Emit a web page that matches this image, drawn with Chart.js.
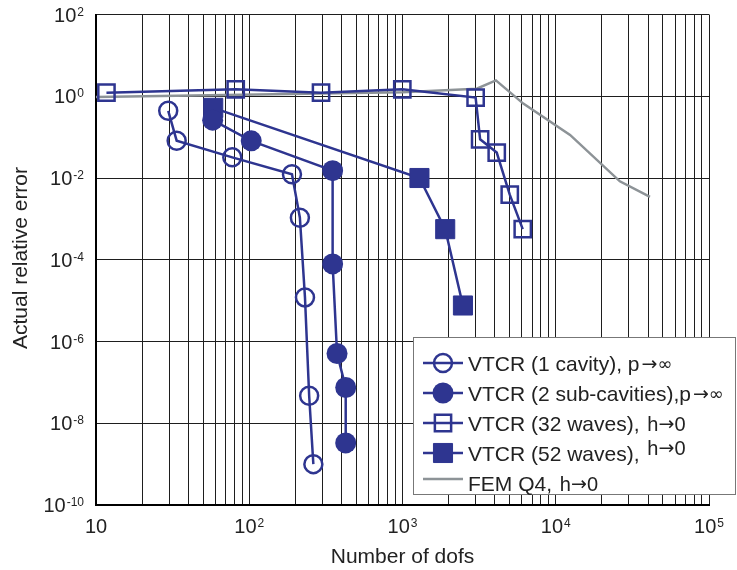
<!DOCTYPE html>
<html>
<head>
<meta charset="utf-8">
<script src="https://cdn.jsdelivr.net/npm/chart.js@4.4.1/dist/chart.umd.min.js"></script>
<style>
  html, body { margin: 0; padding: 0; background: #fff; }
  #wrap { position: relative; width: 737px; height: 570px; }
</style>
</head>
<body>
<div id="wrap"><canvas id="chart" width="737" height="570"></canvas></div>
<script>
'use strict'

// dofs / actual relative error
const cavity1Dofs = [29.6, 33.6, 77.5, 190, 214, 231, 246, 262]
const cavity1Err = [0.44, 0.082, 0.032, 0.0123, 1.07e-3, 1.2e-5, 4.7e-8, 1.0e-9]
const cavity2Dofs = [57.7, 103, 350, 350, 374, 426, 426]
const cavity2Err = [0.26, 0.081, 0.0151, 7.9e-5, 5.1e-7, 7.5e-8, 3.3e-9]
const waves32Dofs = [11.7, 81.6, 294, 997, 3000, 3210, 4120, 5010, 6090]
const waves32Err = [1.22, 1.48, 1.22, 1.48, 0.93, 0.0885, 0.042, 3.9e-3, 5.6e-4]
const waves52Dofs = [58.2, 1290, 1900, 2480]
const waves52Err = [0.52, 0.01, 5.6e-4, 7.6e-6]
const femDofs = [10, 1000, 3050, 4070, 6140, 12400, 26200, 41200]
const femErr = [0.96, 1.25, 1.53, 2.45, 0.66, 0.113, 8.3e-3, 3.45e-3]

const seriesNames = ['VTCR (1 cavity), p', 'VTCR (2 sub-cavities),p', 'VTCR (32 waves), ', 'VTCR (52 waves), ', 'FEM Q4, ']
const seriesLimits = ['→∞', '→∞', 'h→0', 'h→0', 'h→0']

// labelled decades on each axis
const xDecades = [10, 100, 1000, 10000, 100000]
const yDecades = [1e-10, 1e-8, 1e-6, 1e-4, 1e-2, 1, 100]

const xTitle = 'Number of dofs'
const yTitle = 'Actual relative error'

const BLUE = '#2e3590'
const GREY = '#8d9397'
const FONT = '"Liberation Sans", Arial, sans-serif'
const SYMBOL_FONT = '"DejaVu Sans", sans-serif'

// vertical grid at every 1..9 x 10^n
const xGrid = []
xDecades.forEach((d, i) => {
  if (i === xDecades.length - 1) { xGrid.push(d); return }
  for (let k = 1; k < 10; k++) xGrid.push(d * k)
})

function toPoints (xs, ys) {
  return xs.map((x, i) => ({ x, y: ys[i] }))
}

const datasets = [
  {
    data: toPoints(cavity1Dofs, cavity1Err),
    borderColor: BLUE,
    borderWidth: 2.5,
    pointStyle: 'circle',
    pointRadius: 9,
    pointBorderWidth: 2.5,
    pointBackgroundColor: 'rgba(0,0,0,0)'
  },
  {
    data: toPoints(cavity2Dofs, cavity2Err),
    borderColor: BLUE,
    borderWidth: 2.5,
    pointStyle: 'circle',
    pointRadius: 10.5,
    pointBorderWidth: 0,
    pointBackgroundColor: BLUE
  },
  {
    data: toPoints(waves32Dofs, waves32Err),
    borderColor: BLUE,
    borderWidth: 2.5,
    pointStyle: 'rect',
    pointRadius: 11.5,
    pointBorderWidth: 2.5,
    pointBackgroundColor: 'rgba(0,0,0,0)'
  },
  {
    data: toPoints(waves52Dofs, waves52Err),
    borderColor: BLUE,
    borderWidth: 2.5,
    pointStyle: 'rect',
    pointRadius: 13.5,
    pointBorderWidth: 1,
    pointBackgroundColor: BLUE
  },
  {
    data: toPoints(femDofs, femErr),
    borderColor: GREY,
    borderWidth: 2.5,
    pointRadius: 0
  }
].map((ds, i) => Object.assign({
  label: seriesNames[i] + seriesLimits[i],
  showLine: true,
  tension: 0,
  fill: false,
  pointBorderColor: ds.borderColor
}, ds))

// "10" with a small raised exponent; cy is the middle of the digits
function drawPower (ctx, exp, x, cy, align) {
  ctx.textAlign = 'left'
  ctx.textBaseline = 'alphabetic'
  ctx.fillStyle = '#222'
  ctx.font = '20px ' + FONT
  const bw = ctx.measureText('10').width
  ctx.font = '12px ' + FONT
  const ew = exp === null ? 0 : ctx.measureText(exp).width + 1
  const left = align === 'right' ? x - bw - ew : x - (bw + ew) / 2
  ctx.font = '20px ' + FONT
  ctx.fillText('10', left, cy + 7)
  if (exp !== null) {
    ctx.font = '12px ' + FONT
    ctx.fillText(exp, left + bw + 1, cy + 1)
  }
}

// the "p->inf" / "h->0" tails, with thin symbol glyphs
function drawLimit (ctx, text, x, baseline) {
  for (const ch of text) {
    let font = '20px ' + FONT
    let dy = 0
    if (ch === '→') { font = '19px ' + SYMBOL_FONT; dy = -1 }
    if (ch === '∞') { font = '18px ' + SYMBOL_FONT; dy = -1 }
    ctx.font = font
    ctx.fillText(ch, x, baseline + dy)
    x += ctx.measureText(ch).width
  }
}

const decorations = {
  id: 'decorations',
  afterDraw (chart) {
    const { ctx, scales: { x, y }, chartArea } = chart
    ctx.save()

    // tick labels
    for (const v of xDecades) {
      const e = Math.round(Math.log10(v))
      drawPower(ctx, e === 1 ? null : String(e), x.getPixelForValue(v), 526, 'center')
    }
    for (const v of yDecades) {
      const e = Math.round(Math.log10(v))
      drawPower(ctx, String(e), 84, y.getPixelForValue(v), 'right')
    }

    // axis titles
    ctx.fillStyle = '#222'
    ctx.font = '21px ' + FONT
    ctx.textAlign = 'center'
    ctx.textBaseline = 'middle'
    ctx.fillText(xTitle, (chartArea.left + chartArea.right) / 2, 557)
    ctx.save()
    ctx.translate(21, 258)
    ctx.rotate(-Math.PI / 2)
    ctx.fillText(yTitle, 0, 0)
    ctx.restore()

    // legend
    ctx.fillStyle = '#fff'
    ctx.fillRect(413, 337, 323, 158)
    ctx.strokeStyle = '#777'
    ctx.lineWidth = 1
    ctx.strokeRect(413.5, 337.5, 322, 157)

    chart.data.datasets.forEach((ds, i) => {
      const cy = 363 + i * 30
      const ly = i === 4 ? cy - 4 : cy
      ctx.strokeStyle = ds.borderColor
      ctx.lineWidth = ds.borderWidth
      ctx.beginPath()
      ctx.moveTo(423, ly)
      ctx.lineTo(463, ly)
      ctx.stroke()
      if (ds.pointRadius > 0) {
        ctx.fillStyle = ds.pointBackgroundColor
        ctx.strokeStyle = ds.pointBorderColor
        ctx.lineWidth = ds.pointBorderWidth
        Chart.helpers.drawPoint(ctx, {
          pointStyle: ds.pointStyle,
          radius: ds.pointRadius,
          rotation: 0,
          borderWidth: ds.pointBorderWidth
        }, 443, cy)
      }
      ctx.fillStyle = '#222'
      ctx.textAlign = 'left'
      ctx.textBaseline = 'alphabetic'
      ctx.font = '21px ' + FONT
      ctx.fillText(seriesNames[i], 468, cy + 8)
      const w = ctx.measureText(seriesNames[i]).width
      drawLimit(ctx, seriesLimits[i], 468 + w + 2, cy + 8 - (i === 3 ? 6 : 0))
    })

    ctx.restore()
  }
}

new Chart(document.getElementById('chart'), {
  type: 'scatter',
  data: { datasets },
  options: {
    responsive: false,
    animation: false,
    layout: { padding: { left: 96, top: 13, right: 28, bottom: 65 } },
    plugins: {
      legend: { display: false },
      tooltip: { enabled: false }
    },
    scales: {
      x: {
        type: 'logarithmic',
        min: 10,
        max: 100000,
        afterBuildTicks: (scale) => { scale.ticks = xGrid.map(v => ({ value: v })) },
        ticks: { display: false },
        grid: { color: '#1e1e1e', lineWidth: 1, drawTicks: false },
        border: { color: '#000', width: 2 }
      },
      y: {
        type: 'logarithmic',
        min: 1e-10,
        max: 100,
        afterBuildTicks: (scale) => { scale.ticks = yDecades.map(v => ({ value: v })) },
        ticks: { display: false },
        grid: { color: '#1e1e1e', lineWidth: 1, drawTicks: false },
        border: { color: '#000', width: 2 }
      }
    }
  },
  plugins: [decorations]
})
</script>
</body>
</html>
